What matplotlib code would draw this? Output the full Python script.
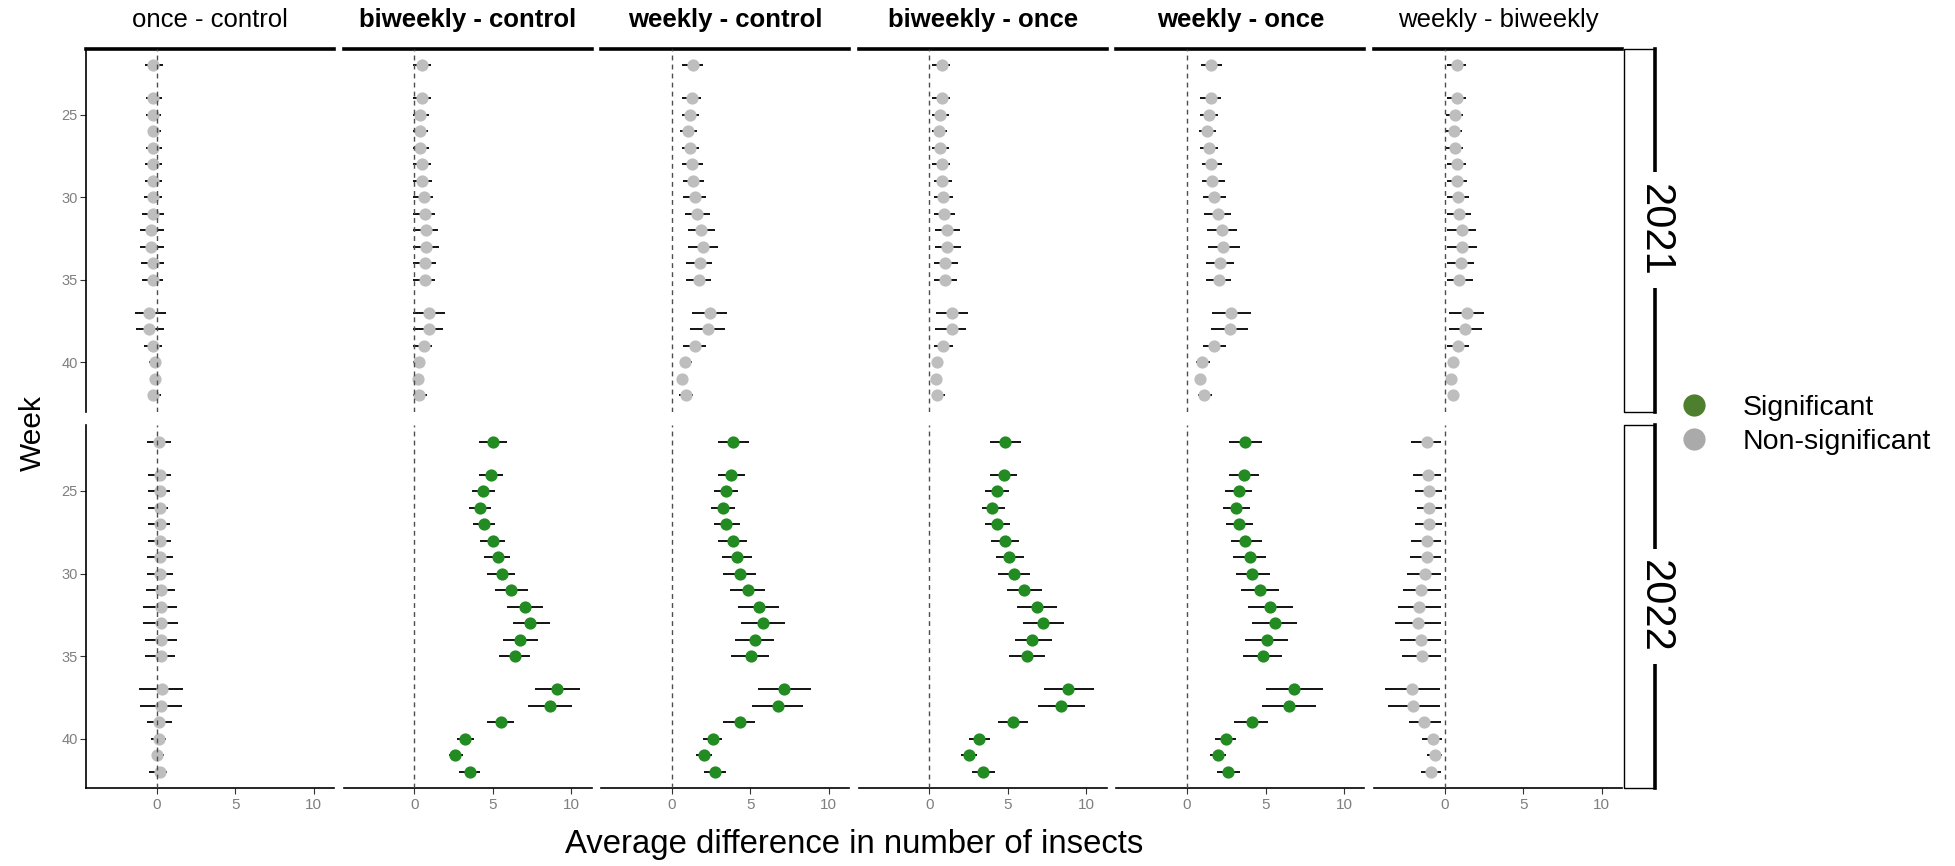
import matplotlib.pyplot as plt
from matplotlib.lines import Line2D

plt.rcParams['font.family'] = ['Liberation Sans', 'DejaVu Sans']

weeks = [22, 24, 25, 26, 27, 28, 29, 30, 31, 32, 33, 34, 35, 37, 38, 39, 40, 41, 42]
comparisons = ['once - control', 'biweekly - control', 'weekly - control',
               'biweekly - once', 'weekly - once', 'weekly - biweekly']
title_bold = [False, True, True, True, True, False]
years = ['2021', '2022']

# once - control
oc21 = [-0.2, -0.2, -0.2, -0.2, -0.2, -0.2, -0.25, -0.25, -0.25, -0.33, -0.33, -0.25, -0.25, -0.46, -0.46, -0.25, -0.1, -0.1, -0.2]
oc21_lo = [-0.77, -0.67, -0.67, -0.56, -0.67, -0.75, -0.77, -0.83, -0.94, -1.08, -1.08, -1.0, -0.94, -1.37, -1.29, -0.83, -0.5, -0.35, -0.46]
oc21_hi = [0.38, 0.33, 0.25, 0.25, 0.33, 0.33, 0.33, 0.33, 0.44, 0.44, 0.5, 0.44, 0.42, 0.58, 0.5, 0.33, 0.25, 0.2, 0.25]
oc22 = [0.17, 0.2, 0.2, 0.2, 0.2, 0.2, 0.2, 0.2, 0.3, 0.3, 0.3, 0.3, 0.3, 0.37, 0.3, 0.17, 0.17, 0.0, 0.2]
oc22_lo = [-0.6, -0.52, -0.52, -0.52, -0.52, -0.56, -0.6, -0.6, -0.7, -0.85, -0.85, -0.77, -0.77, -1.12, -1.04, -0.6, -0.35, -0.25, -0.46]
oc22_hi = [0.94, 0.94, 0.85, 0.75, 0.85, 0.94, 1.02, 1.02, 1.17, 1.27, 1.35, 1.27, 1.17, 1.7, 1.62, 1.0, 0.58, 0.5, 0.67]

# biweekly - control
bc21 = [0.5, 0.5, 0.38, 0.38, 0.38, 0.5, 0.5, 0.6, 0.68, 0.77, 0.77, 0.68, 0.68, 0.94, 0.94, 0.6, 0.32, 0.25, 0.32]
bc21_lo = [-0.05] * 19
bc21_hi = [1.06, 1.06, 0.96, 0.9, 0.96, 1.06, 1.13, 1.17, 1.32, 1.49, 1.57, 1.4, 1.32, 1.94, 1.85, 1.13, 0.55, 0.45, 0.79]
bc22 = [5.0, 4.9, 4.38, 4.19, 4.47, 5.0, 5.32, 5.57, 6.19, 7.06, 7.4, 6.74, 6.45, 9.09, 8.62, 5.51, 3.23, 2.62, 3.55]
bc22_lo = [4.1, 4.1, 3.68, 3.51, 3.77, 4.2, 4.47, 4.64, 5.15, 5.94, 6.28, 5.68, 5.43, 7.7, 7.23, 4.64, 2.72, 2.19, 2.87]
bc22_hi = [5.9, 5.68, 5.15, 4.9, 5.15, 5.77, 6.1, 6.45, 7.23, 8.19, 8.64, 7.87, 7.4, 10.55, 10.04, 6.38, 3.83, 3.13, 4.19]

# weekly - control
wc21 = [1.38, 1.28, 1.17, 1.06, 1.17, 1.28, 1.38, 1.45, 1.6, 1.87, 1.96, 1.81, 1.7, 2.4, 2.3, 1.45, 0.81, 0.64, 0.89]
wc21_lo = [0.64, 0.64, 0.64, 0.55, 0.64, 0.64, 0.74, 0.74, 0.83, 1.0, 1.0, 0.91, 0.91, 1.26, 1.17, 0.74, 0.51, 0.43, 0.47]
wc21_hi = [1.96, 1.87, 1.7, 1.62, 1.7, 1.96, 2.06, 2.15, 2.4, 2.77, 2.91, 2.57, 2.49, 3.53, 3.36, 2.15, 1.28, 0.89, 1.36]
wc22 = [3.89, 3.79, 3.45, 3.26, 3.45, 3.87, 4.15, 4.32, 4.83, 5.57, 5.81, 5.28, 5.02, 7.15, 6.77, 4.32, 2.6, 2.06, 2.74]
wc22_lo = [2.94, 2.94, 2.66, 2.49, 2.66, 2.94, 3.19, 3.28, 3.72, 4.21, 4.4, 4.04, 3.79, 5.47, 5.1, 3.28, 1.96, 1.53, 2.06]
wc22_hi = [4.89, 4.68, 4.21, 4.04, 4.32, 4.77, 5.1, 5.36, 5.96, 6.85, 7.19, 6.49, 6.17, 8.87, 8.34, 5.28, 3.19, 2.55, 3.45]

# biweekly - once
bo21 = [0.81, 0.81, 0.68, 0.6, 0.68, 0.81, 0.81, 0.89, 0.94, 1.1, 1.1, 1.02, 1.02, 1.43, 1.43, 0.89, 0.51, 0.43, 0.51]
bo21_lo = [0.17, 0.17, 0.17, 0.17, 0.17, 0.17, 0.26, 0.26, 0.26, 0.36, 0.36, 0.28, 0.28, 0.45, 0.36, 0.26, 0.26, 0.17, 0.26]
bo21_hi = [1.32, 1.32, 1.23, 1.1, 1.23, 1.32, 1.43, 1.51, 1.66, 1.94, 2.02, 1.85, 1.74, 2.45, 2.36, 1.51, 0.81, 0.72, 0.96]
bo22 = [4.83, 4.72, 4.28, 4.0, 4.28, 4.81, 5.1, 5.4, 6.02, 6.87, 7.23, 6.55, 6.19, 8.83, 8.36, 5.32, 3.15, 2.53, 3.4]
bo22_lo = [3.85, 3.85, 3.51, 3.32, 3.51, 3.94, 4.21, 4.38, 4.91, 5.6, 5.94, 5.43, 5.09, 7.28, 6.91, 4.38, 2.55, 2.04, 2.72]
bo22_hi = [5.85, 5.6, 5.06, 4.81, 5.15, 5.68, 6.02, 6.38, 7.15, 8.13, 8.57, 7.79, 7.34, 10.49, 9.89, 6.28, 3.83, 3.06, 4.15]

# weekly - once
wo21 = [1.53, 1.53, 1.38, 1.28, 1.38, 1.53, 1.62, 1.7, 1.98, 2.23, 2.32, 2.13, 2.06, 2.81, 2.72, 1.7, 0.96, 0.81, 1.1]
wo21_lo = [0.89, 0.85, 0.85, 0.77, 0.85, 0.94, 0.94, 1.02, 1.1, 1.28, 1.36, 1.19, 1.19, 1.62, 1.53, 1.02, 0.6, 0.55, 0.68]
wo21_hi = [2.23, 2.15, 1.96, 1.87, 1.96, 2.23, 2.4, 2.49, 2.77, 3.19, 3.36, 3.02, 2.83, 4.06, 3.89, 2.49, 1.45, 1.1, 1.62]
wo22 = [3.72, 3.62, 3.28, 3.1, 3.34, 3.72, 3.98, 4.15, 4.68, 5.28, 5.62, 5.1, 4.85, 6.83, 6.51, 4.15, 2.49, 1.98, 2.64]
wo22_lo = [2.68, 2.68, 2.43, 2.32, 2.51, 2.77, 2.94, 3.1, 3.45, 3.89, 4.15, 3.72, 3.55, 5.02, 4.77, 3.02, 1.81, 1.47, 1.89]
wo22_hi = [4.77, 4.6, 4.15, 3.98, 4.23, 4.77, 5.02, 5.28, 5.89, 6.77, 7.02, 6.45, 6.06, 8.68, 8.19, 5.19, 3.13, 2.49, 3.38]

# weekly - biweekly
wb21 = [0.77, 0.77, 0.68, 0.6, 0.68, 0.77, 0.77, 0.85, 0.94, 1.1, 1.1, 1.02, 0.94, 1.45, 1.32, 0.85, 0.51, 0.38, 0.51]
wb21_lo = [0.13, 0.13, 0.09, 0.09, 0.09, 0.13, 0.13, 0.13, 0.13, 0.17, 0.17, 0.17, 0.17, 0.26, 0.26, 0.17, 0.21, 0.17, 0.21]
wb21_hi = [1.36, 1.36, 1.19, 1.1, 1.19, 1.36, 1.45, 1.53, 1.7, 1.98, 2.06, 1.89, 1.81, 2.51, 2.4, 1.53, 0.81, 0.68, 0.91]
wb22 = [-1.15, -1.06, -0.98, -0.98, -0.98, -1.15, -1.15, -1.28, -1.49, -1.62, -1.68, -1.53, -1.45, -2.06, -2.0, -1.32, -0.77, -0.64, -0.85]
wb22_lo = [-2.13, -2.04, -1.87, -1.79, -1.87, -2.13, -2.21, -2.38, -2.66, -2.98, -3.17, -2.83, -2.72, -3.77, -3.62, -2.3, -1.43, -1.15, -1.53]
wb22_hi = [-0.21, -0.21, -0.17, -0.17, -0.17, -0.21, -0.21, -0.21, -0.21, -0.21, -0.21, -0.21, -0.21, -0.32, -0.3, -0.21, -0.15, -0.17, -0.21]

panels = {
    'once - control': [(oc21, oc21_lo, oc21_hi, False), (oc22, oc22_lo, oc22_hi, False)],
    'biweekly - control': [(bc21, bc21_lo, bc21_hi, False), (bc22, bc22_lo, bc22_hi, True)],
    'weekly - control': [(wc21, wc21_lo, wc21_hi, False), (wc22, wc22_lo, wc22_hi, True)],
    'biweekly - once': [(bo21, bo21_lo, bo21_hi, False), (bo22, bo22_lo, bo22_hi, True)],
    'weekly - once': [(wo21, wo21_lo, wo21_hi, False), (wo22, wo22_lo, wo22_hi, True)],
    'weekly - biweekly': [(wb21, wb21_lo, wb21_hi, False), (wb22, wb22_lo, wb22_hi, False)],
}

sig_col = '#228B22'
nonsig_col = '#BEBEBE'
tick_col = '#7F7F7F'

W, H = 1955, 866
fig = plt.figure(figsize=(W / 100, H / 100), dpi=100)

left0, pw, pitch = 86, 248, 257.6
rows = [(48.5, 411.5), (425, 788)]


def fig_line(xs, ys, lw, z):
    # xs, ys in pixels from top-left
    fig.add_artist(Line2D([x / W for x in xs], [1 - y / H for y in ys],
                          transform=fig.transFigure, lw=lw, color='black', zorder=z))


for r, (top, bot) in enumerate(rows):
    for c, comp in enumerate(comparisons):
        x0 = left0 + c * pitch
        ax = fig.add_axes([x0 / W, 1 - bot / H, pw / W, (bot - top) / H])
        est, lo, hi, sig = panels[comp][r]
        ax.hlines(weeks, lo, hi, color='black', lw=1.3, zorder=2)
        ax.plot(est, weeks, 'o', ms=8.8, color=sig_col if sig else nonsig_col,
                mec='none', zorder=3)
        ax.axvline(0, color='#4D4D4D', lw=1.0, ls=(0, (3.5, 3)), zorder=4)
        ax.set_xlim(-4.5, 11.3)
        ax.set_ylim(43, 21)
        for s in ax.spines.values():
            s.set_visible(False)
        ax.tick_params(colors='#333333', labelcolor=tick_col, length=4, width=0.8)
        if c == 0:
            ax.spines['left'].set_visible(True)
            ax.spines['left'].set_linewidth(1.2)
            ax.set_yticks([25, 30, 35, 40])
            ax.tick_params(axis='y', labelsize=10.5, pad=2)
        else:
            ax.set_yticks([])
        if r == 1:
            ax.spines['bottom'].set_visible(True)
            ax.spines['bottom'].set_linewidth(1.2)
            ax.set_xticks([0, 5, 10])
            ax.tick_params(axis='x', labelsize=11, pad=3)
        else:
            ax.set_xticks([])
            ax.spines['top'].set_visible(True)
            ax.spines['top'].set_linewidth(2.6)
            fig.text((x0 + pw / 2) / W, 1 - 20 / H, comp, ha='center', va='center',
                     fontsize=18.5, fontweight='bold' if title_bold[c] else 'normal')

    # year strip on the right: thin box, thick right edge broken by the label
    sx0, sx1 = 1624, 1655
    fig_line([sx1, sx0, sx0, sx1], [top, top, bot, bot], 1.0, 5)
    fig_line([sx1, sx1], [top, bot], 2.6, 2)
    fig.text(sx1 / W, 1 - (top + bot) / 2 / H, years[r], rotation=270, ha='center', va='center',
             fontsize=30, zorder=3, bbox=dict(fc='white', ec='none', pad=8))

fig.text(854 / W, 1 - 845 / H, 'Average difference in number of insects',
         ha='center', va='center', fontsize=23.7)
fig.text(33 / W, 1 - 433 / H, 'Week', rotation=90, ha='center', va='center', fontsize=21.5)

handles = [Line2D([], [], marker='o', ls='', ms=16, color='#4D7F2E', mec='none'),
           Line2D([], [], marker='o', ls='', ms=16, color='#AAAAAA', mec='none')]
fig.legend(handles, ['Significant', 'Non-significant'], loc='center left',
           bbox_to_anchor=(1680 / W, 1 - 425 / H), frameon=False, fontsize=20.5,
           handlelength=1.0, handletextpad=1.2, labelspacing=0.3,
           borderaxespad=0, borderpad=0)

fig.savefig('out.png', dpi=100)
